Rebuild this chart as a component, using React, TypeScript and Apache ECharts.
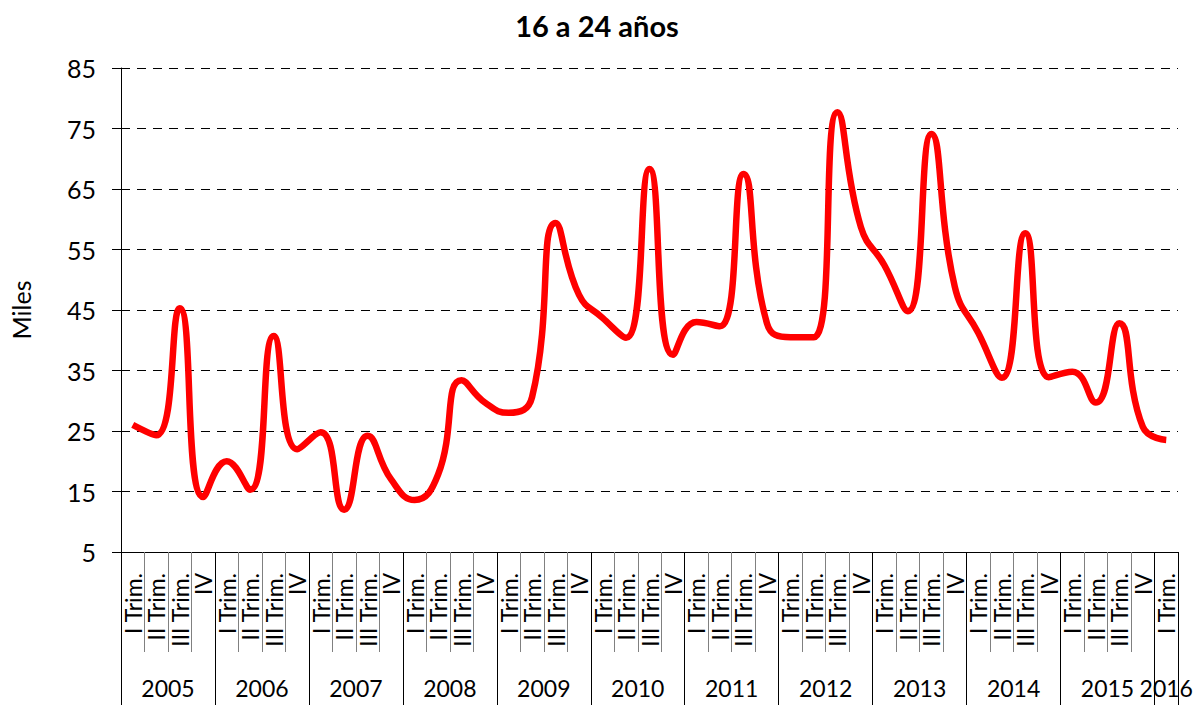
import React, { useEffect, useRef } from "react";
import * as echarts from "echarts";

const TITLE = "16 a 24 años";
const Y_NAME = "Miles";
const years = ["2005", "2006", "2007", "2008", "2009", "2010", "2011", "2012", "2013", "2014", "2015", "2016"];
const quartersPerYear = [4, 4, 4, 4, 4, 4, 4, 4, 4, 4, 4, 1];
const quarterNames = ["I Trim.", "II Trim.", "III Trim.", "IV"];
const values = [
  26, 24.3, 45.3, 14.1,
  20, 15.3, 40.7, 22,
  24.8, 12, 24.2, 17,
  13.6, 17.8, 33.4, 29.7,
  28, 30.6, 59.4, 47.5,
  43.7, 40.4, 68.3, 37.6,
  43, 42.3, 67.5, 42.8,
  40.5, 40.5, 77.7, 58.7,
  52.4, 44.8, 74.1, 48.8,
  41.2, 33.8, 57.7, 33.9,
  34.8, 29.7, 42.8, 25.7,
  23.5,
];
const yMin = 5;
const yMax = 85;
const yStep = 10;

const FONT = "Lato, 'Noto Sans', sans-serif";

export default function App() {
  const ref = useRef<HTMLDivElement>(null);
  useEffect(() => {
    if (!ref.current) return;
    const chart = echarts.init(ref.current, undefined, { renderer: "svg" });

    const categories: string[] = [];
    const boundaries: number[] = [0];
    const centers: number[] = [];
    let acc = 0;
    years.forEach((y, yi) => {
      const n = quartersPerYear[yi];
      for (let q = 0; q < n; q++) categories.push(y + " " + quarterNames[q]);
      centers.push(acc + n / 2);
      acc += n;
      boundaries.push(acc);
    });
    const yearForCenter = (v: number) => {
      const idx = centers.findIndex((c) => Math.abs(c - v) < 1e-6);
      return idx >= 0 ? years[idx] : "";
    };

    chart.setOption({
      animation: false,
      title: {
        text: TITLE,
        left: 592,
        textAlign: "center",
        top: 6,
        textStyle: { fontFamily: FONT, fontWeight: "bold", fontSize: 29, color: "#000" },
      },
      grid: { left: 120, right: 18, top: 68, bottom: 153, containLabel: false },
      xAxis: [
        {
          type: "category",
          data: categories,
          boundaryGap: true,
          axisLine: { show: true, lineStyle: { color: "#000", width: 1 } },
          axisTick: { show: true, interval: 0, length: 100, lineStyle: { color: "#808080", width: 1 } },
          axisLabel: {
            interval: 0,
            rotate: 90,
            margin: 21,
            fontFamily: FONT,
            fontSize: 23,
            color: "#000",
            formatter: (v: string) => v.split(" ").slice(1).join(" "),
          },
          splitLine: { show: false },
        },
        {
          type: "value",
          min: 0,
          max: categories.length,
          position: "bottom",
          axisLine: { show: false },
          axisTick: {
            show: true,
            customValues: boundaries,
            length: 153,
            lineStyle: { color: "#000", width: 1 },
          },
          axisLabel: {
            customValues: centers,
            margin: 124,
            fontFamily: FONT,
            fontSize: 23,
            color: "#000",
            formatter: (v: number) => yearForCenter(v),
          },
          splitLine: { show: false },
        },
      ],
      yAxis: {
        type: "value",
        min: yMin,
        max: yMax,
        interval: yStep,
        name: Y_NAME,
        nameLocation: "middle",
        nameRotate: 90,
        nameGap: 88,
        nameTextStyle: { fontFamily: FONT, fontSize: 25, color: "#000" },
        axisLine: { show: true, lineStyle: { color: "#000", width: 1 } },
        axisTick: { show: true, length: 9, lineStyle: { color: "#000" } },
        axisLabel: { margin: 25, fontFamily: FONT, fontSize: 25, color: "#000" },
        splitLine: { show: true, lineStyle: { color: "#000", type: [9, 7], width: 1 } },
      },
      series: [
        {
          type: "line",
          data: values,
          xAxisIndex: 0,
          smooth: 0.5,
          symbol: "none",
          lineStyle: { color: "#ff0000", width: 6.5 },
          z: 5,
        },
      ],
    });
    return () => chart.dispose();
  }, []);
  return (
    <div
      ref={ref}
      style={{ position: "fixed", left: 0, top: 0, width: 1196, height: 705, background: "#fff" }}
    />
  );
}
